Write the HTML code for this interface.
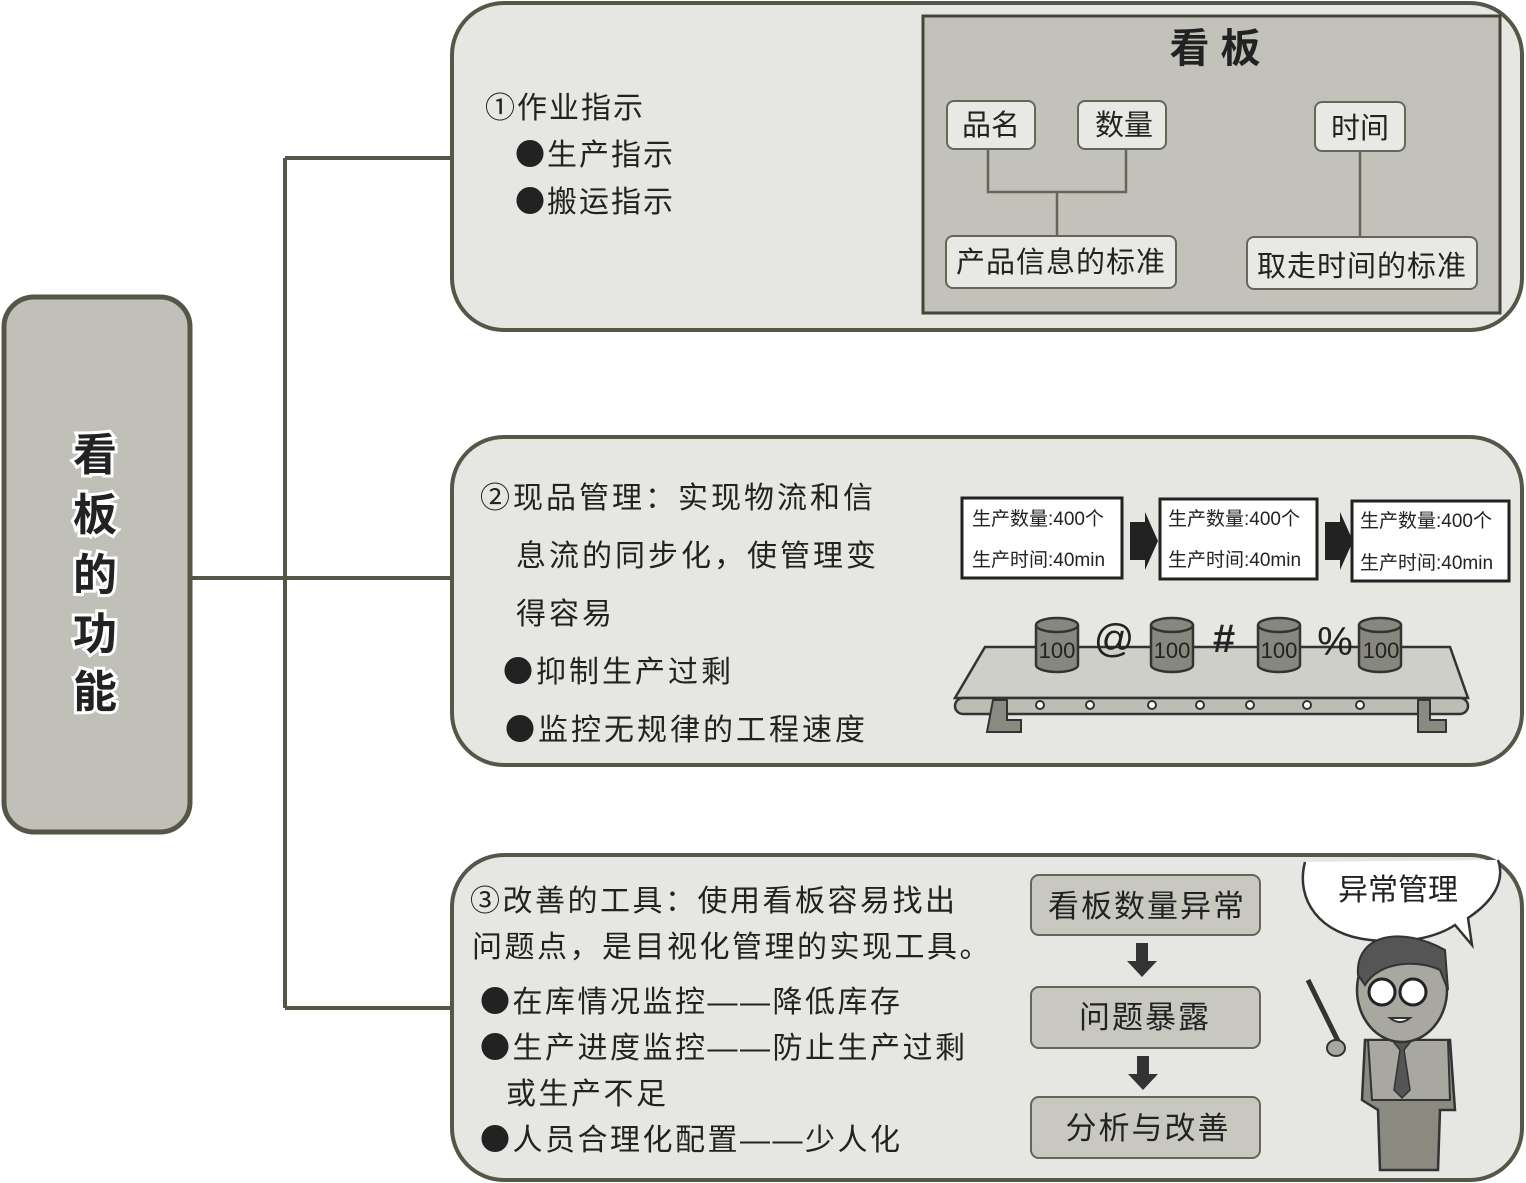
<!DOCTYPE html>
<html><head><meta charset="utf-8"><style>
html,body{margin:0;padding:0;background:#fff;}
svg{display:block;}
text{font-family:"Liberation Sans","Noto Sans CJK SC",sans-serif;fill:#222;}
.b{font-family:"Noto Sans CJK SC",sans-serif;}
</style></head><body>
<svg width="1526" height="1183" viewBox="0 0 1526 1183" xmlns="http://www.w3.org/2000/svg">
<g stroke="#555548" stroke-width="4" fill="none">
<line x1="285" y1="158" x2="285" y2="1008"/>
<line x1="285" y1="158" x2="452" y2="158"/>
<line x1="190" y1="578" x2="452" y2="578"/>
<line x1="285" y1="1008" x2="452" y2="1008"/>
</g>
<rect x="4" y="297" width="186" height="535" rx="30" fill="#c0c0b9" stroke="#555548" stroke-width="5"/>
<g font-size="44" font-weight="bold" text-anchor="middle" style="paint-order:stroke" stroke="#fff" stroke-width="6">
<text x="95" y="470">看</text><text x="95" y="530">板</text><text x="95" y="590">的</text><text x="95" y="649">功</text><text x="95" y="707">能</text>
</g>
<g fill="#e6e6e2" stroke="#555548" stroke-width="4">
<rect x="452" y="3" width="1070" height="327" rx="52"/>
<rect x="452" y="437" width="1070" height="328" rx="52"/>
<rect x="452" y="855" width="1070" height="325" rx="52"/>
</g>
<!-- panel 1 -->
<g font-size="30" letter-spacing="2">
<text x="485" y="118">①作业指示</text>
<text x="515" y="165"><tspan class="b">●</tspan>生产指示</text>
<text x="515" y="212"><tspan class="b">●</tspan>搬运指示</text>
</g>
<rect x="923" y="16" width="577" height="297" fill="#c2c2ba" stroke="#444438" stroke-width="3"/>
<text x="1215" y="62" font-size="40" font-weight="bold" text-anchor="middle">看 板</text>
<g stroke="#666658" stroke-width="2.5" fill="none">
<polyline points="988,150 988,192 1126,192 1126,150"/>
<line x1="1057" y1="192" x2="1057" y2="236"/>
<line x1="1360" y1="150" x2="1360" y2="238"/>
</g>
<g fill="#e8e8e4" stroke="#666658" stroke-width="2">
<rect x="947" y="101" width="88" height="48" rx="7"/>
<rect x="1078" y="101" width="88" height="48" rx="7"/>
<rect x="1315" y="102" width="90" height="49" rx="7"/>
<rect x="946" y="236" width="230" height="52" rx="7"/>
<rect x="1247" y="237" width="230" height="52" rx="7"/>
</g>
<g font-size="29" text-anchor="middle">
<text x="991" y="135">品名</text><text x="1124" y="135">数量</text><text x="1360" y="138">时间</text>
<text x="1061" y="272" letter-spacing="1">产品信息的标准</text><text x="1362" y="276" letter-spacing="1">取走时间的标准</text>
</g>
<!-- panel 2 -->
<g font-size="30" letter-spacing="3">
<text x="480" y="508">②现品管理：实现物流和信</text>
<text x="516" y="566">息流的同步化，使管理变</text>
<text x="516" y="624">得容易</text>
<text x="503" y="682"><tspan class="b">●</tspan>抑制生产过剩</text>
<text x="505" y="740"><tspan class="b">●</tspan>监控无规律的工程速度</text>
</g>
<g fill="#fff" stroke="#222" stroke-width="3">
<rect x="962" y="498" width="160" height="80"/>
<rect x="1160" y="499" width="157" height="80"/>
<rect x="1352" y="501" width="157" height="80"/>
</g>
<g font-size="19">
<text x="972" y="525">生产数量:400个</text><text x="972" y="566">生产时间:40min</text>
<text x="1168" y="525">生产数量:400个</text><text x="1168" y="566">生产时间:40min</text>
<text x="1360" y="527">生产数量:400个</text><text x="1360" y="569">生产时间:40min</text>
</g>
<path d="M1130,522 h15 v-10 l13,29 l-13,29 v-10 h-15z" fill="#222"/>
<path d="M1325,522 h15 v-10 l13,29 l-13,29 v-10 h-15z" fill="#222"/>
<path d="M985,647 L1450,647 L1468,698 L955,698 Z" fill="#cfcfca" stroke="#333" stroke-width="2.5"/>
<rect x="955" y="698" width="513" height="16" rx="8" fill="#bdbdb5" stroke="#333" stroke-width="2.5"/>
<g fill="#fff" stroke="#333" stroke-width="2">
<circle cx="1040" cy="705" r="4"/><circle cx="1090" cy="705" r="4"/><circle cx="1152" cy="705" r="4"/><circle cx="1200" cy="705" r="4"/><circle cx="1250" cy="705" r="4"/><circle cx="1307" cy="705" r="4"/><circle cx="1360" cy="705" r="4"/>
</g>
<g fill="#8a8a80" stroke="#333" stroke-width="2">
<path d="M993,700 h14 v20 h14 v12 h-34z"/><path d="M1418,700 h12 v20 h16 v12 h-28z"/>
</g>
<g fill="#87877d" stroke="#333" stroke-width="2.5">
<path d="M1036,625 v40 a21,7 0 0 0 42,0 v-40"/><ellipse cx="1057" cy="625" rx="21" ry="7"/>
<path d="M1151,625 v40 a21,7 0 0 0 42,0 v-40"/><ellipse cx="1172" cy="625" rx="21" ry="7"/>
<path d="M1258,625 v40 a21,7 0 0 0 42,0 v-40"/><ellipse cx="1279" cy="625" rx="21" ry="7"/>
<path d="M1359,625 v40 a21,7 0 0 0 42,0 v-40"/><ellipse cx="1380" cy="625" rx="21" ry="7"/>
</g>
<g font-size="22" text-anchor="middle" fill="#222">
<text x="1057" y="658">100</text><text x="1172" y="658">100</text><text x="1279" y="658">100</text><text x="1381" y="658">100</text>
</g>
<g font-size="40" text-anchor="middle">
<text x="1114" y="652">@</text><text x="1224" y="652" font-weight="bold">#</text><text x="1335" y="655">%</text>
</g>
<!-- panel 3 -->
<g font-size="30" letter-spacing="2.5">
<text x="470" y="911">③改善的工具：使用看板容易找出</text>
<text x="472" y="957">问题点，是目视化管理的实现工具。</text>
<text x="480" y="1012"><tspan class="b">●</tspan>在库情况监控——降低库存</text>
<text x="480" y="1058"><tspan class="b">●</tspan>生产进度监控——防止生产过剩</text>
<text x="506" y="1104">或生产不足</text>
<text x="480" y="1150"><tspan class="b">●</tspan>人员合理化配置——少人化</text>
</g>
<g fill="#c8c8c1" stroke="#666658" stroke-width="2">
<rect x="1031" y="875" width="229" height="60" rx="8"/>
<rect x="1031" y="987" width="229" height="61" rx="8"/>
<rect x="1031" y="1097" width="229" height="61" rx="8"/>
</g>
<g font-size="31" text-anchor="middle" letter-spacing="2">
<text x="1147" y="917">看板数量异常</text><text x="1145" y="1028">问题暴露</text><text x="1148" y="1139">分析与改善</text>
</g>
<path d="M1136,943 h12 v18 h9 l-15,16 l-15,-16 h9z" fill="#333"/>
<path d="M1137,1056 h12 v18 h9 l-15,16 l-15,-16 h9z" fill="#333"/>
<path d="M1305,862 C1295,900 1320,935 1370,940 C1410,945 1440,935 1455,925 L1472,945 L1468,918 C1495,900 1505,880 1498,860" fill="#fff" stroke="#333" stroke-width="2.5"/>
<text x="1398" y="900" font-size="30" text-anchor="middle">异常管理</text>
<line x1="1308" y1="980" x2="1340" y2="1045" stroke="#333" stroke-width="5"/>
<path d="M1365,1040 L1450,1040 L1455,1110 L1440,1110 L1438,1170 L1380,1170 L1378,1110 L1362,1100 Z" fill="#8a8a80" stroke="#333" stroke-width="2.5"/>
<path d="M1368,1040 L1448,1040 L1450,1100 L1372,1100 Z" fill="#a8a8a0" stroke="#333" stroke-width="2"/>
<path d="M1392,1040 l8,10 l-6,40 l8,8 l8,-8 l-6,-40 l8,-10z" fill="#555" stroke="#333" stroke-width="1.5"/>
<ellipse cx="1402" cy="990" rx="45" ry="52" fill="#a8a8a0" stroke="#333" stroke-width="2.5"/>
<path d="M1358,975 C1355,935 1400,925 1445,950 L1448,990 L1440,970 C1420,960 1380,960 1365,985Z" fill="#555" stroke="#333" stroke-width="2"/>
<circle cx="1382" cy="992" r="13" fill="#fff" stroke="#222" stroke-width="3"/>
<circle cx="1413" cy="992" r="13" fill="#fff" stroke="#222" stroke-width="3"/>
<path d="M1390,1018 q10,8 20,0z" fill="#fff" stroke="#333" stroke-width="2"/>
<ellipse cx="1336" cy="1048" rx="9" ry="8" fill="#a8a8a0" stroke="#333" stroke-width="2"/>
</svg>
</body></html>
